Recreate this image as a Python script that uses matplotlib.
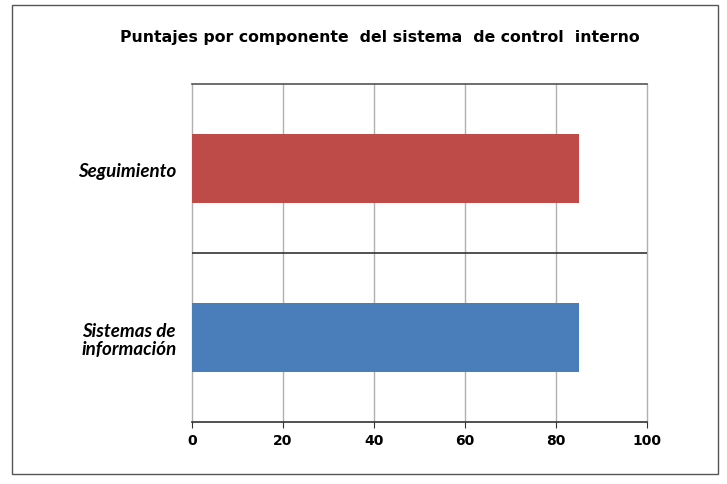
import matplotlib.pyplot as plt
import matplotlib.patches as patches

# === Data ===
categories = ["Sistemas de\ninformación", "Seguimiento"]
scores = [85, 85]
colors = ["#4a7ebb", "#be4b48"]
x_ticks = [0, 20, 40, 60, 80, 100]

fig = plt.figure(figsize=(7.27, 4.85), dpi=100)

# outer frame
fig.patches.append(patches.Rectangle((12 / 727, 10 / 485), 706 / 727, 469 / 485,
                                     transform=fig.transFigure, fill=False,
                                     edgecolor="#555555", linewidth=1.0))

ax = fig.add_axes([192 / 727, 62 / 485, 455 / 727, 338 / 485])
ypos = list(range(len(categories)))
ax.barh(ypos, scores, height=0.41, color=colors, zorder=3)

ax.set_xlim(0, 100)
ax.set_ylim(-0.5, 1.5)
ax.set_xticks(x_ticks)
ax.set_xticklabels([str(t) for t in x_ticks], fontsize=10, fontweight="bold")
ax.set_yticks(ypos)
ax.set_yticklabels(categories, fontsize=13.5, fontweight="bold", style="italic",
                   family="Lato", multialignment="center", linespacing=1.05)
ax.tick_params(axis="y", length=0, pad=11)
ax.tick_params(axis="x", length=4, color="#333333", pad=4)

for t in x_ticks:
    ax.axvline(t, color="#b0b0b0", linewidth=1.0, zorder=1, clip_on=False)
ax.axhline(0.5, color="#333333", linewidth=1.2, zorder=2)

for s in ["left", "right"]:
    ax.spines[s].set_visible(False)
ax.spines["top"].set_color("#555555")
ax.spines["top"].set_linewidth(1.2)
ax.spines["bottom"].set_color("#333333")
ax.spines["bottom"].set_linewidth(1.2)

fig.text(380 / 727, 1 - 38 / 485, "Puntajes por componente  del sistema  de control  interno",
         ha="center", va="center", fontsize=11.3, fontweight="bold")

fig.savefig("out.png", dpi=100)
